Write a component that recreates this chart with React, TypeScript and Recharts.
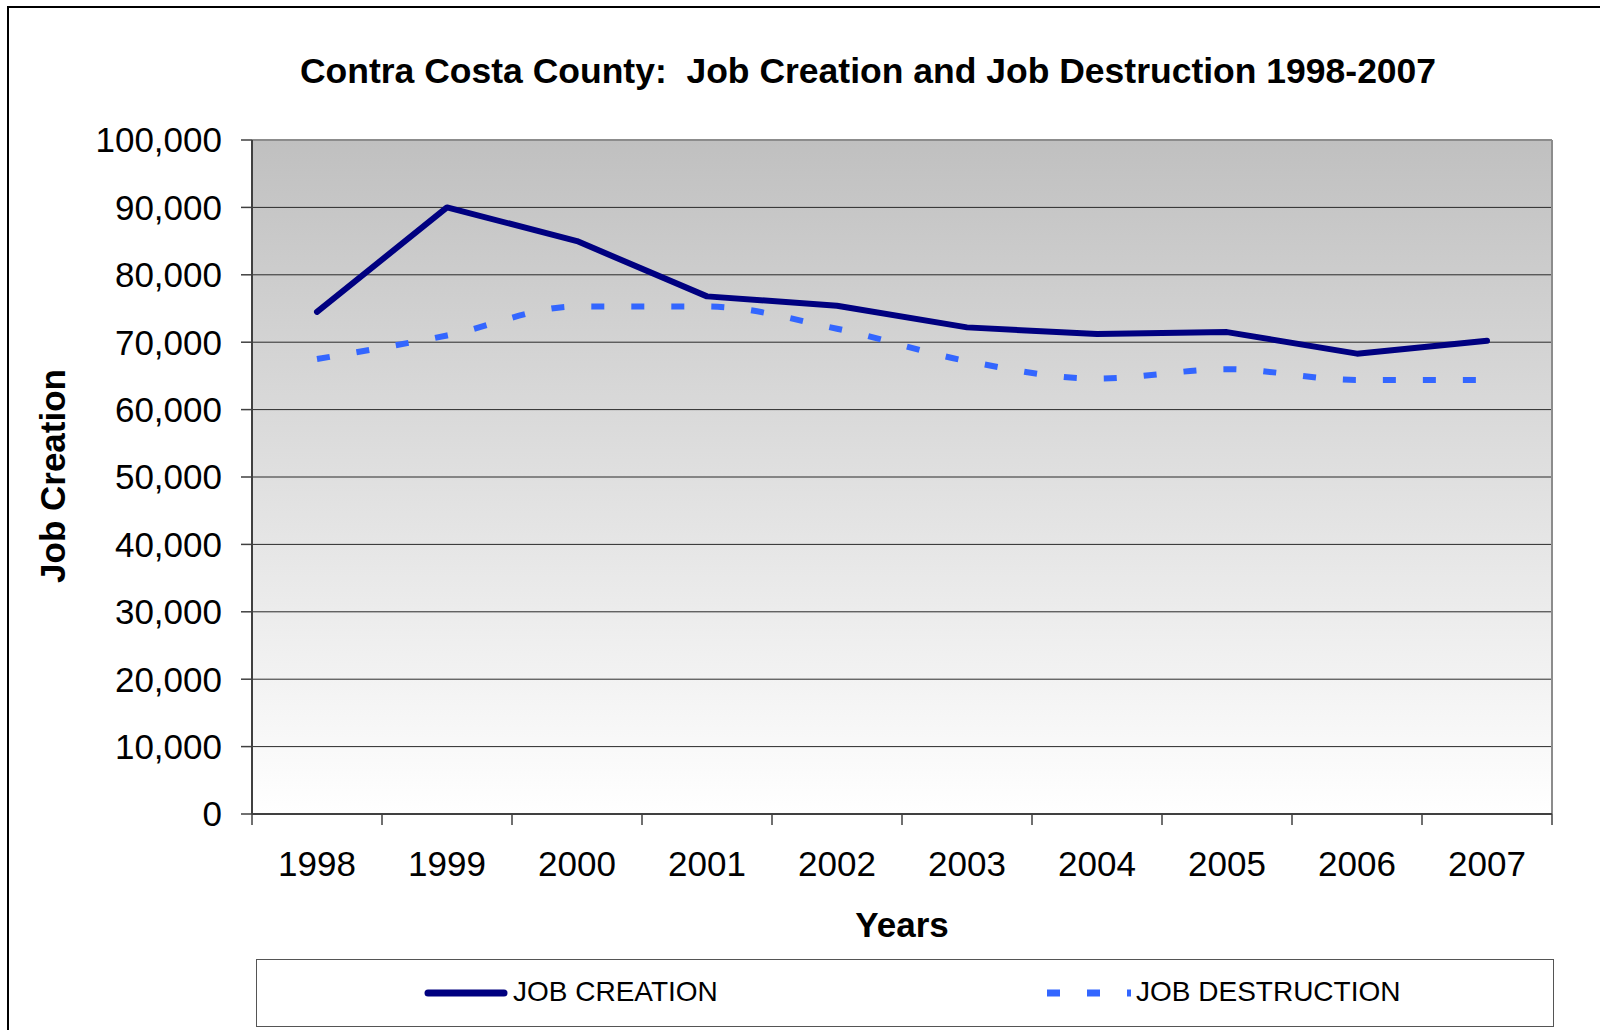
import { CartesianGrid, Line, LineChart, ReferenceLine, XAxis, YAxis } from 'recharts'

const years = ['1998', '1999', '2000', '2001', '2002', '2003', '2004', '2005', '2006', '2007']
const jobCreation = [74500, 90000, 85000, 76800, 75400, 72200, 71200, 71500, 68300, 70200]
const jobDestruction = [67500, 71000, 75300, 75300, 72000, 67200, 64600, 66000, 64400, 64400]
const yTicks = [0, 10000, 20000, 30000, 40000, 50000, 60000, 70000, 80000, 90000, 100000]

const data = years.map((year, i) => ({
  year,
  pos: i + 0.5,
  creation: jobCreation[i],
  destruction: jobDestruction[i],
}))
// tick marks sit between the years, labels sit in the middle of each band
const boundaryTicks = [...years.map((_, i) => i), years.length]

const FONT = '"Liberation Sans", Arial, sans-serif'
const DASH = '13 27'
const MARGIN = { top: 140, right: 48, left: 0, bottom: 156 }
const Y_AXIS_W = 252
const HALF_BAND = (1600 - Y_AXIS_W - MARGIN.right) / years.length / 2

const fmt = (v: number) => v.toLocaleString('en-US')

function YearTick(props: any) {
  const { x, y, payload } = props
  const idx = payload.value
  if (idx >= years.length) return null
  return (
    <text
      x={x + HALF_BAND}
      y={y}
      dy="0.71em"
      textAnchor="middle"
      fill="#000"
      fontSize={35}
      fontFamily={FONT}
    >
      {years[idx]}
    </text>
  )
}

export default function App() {
  return (
    <div
      style={{
        position: 'absolute',
        left: 0,
        top: 0,
        width: 1600,
        height: 1030,
        background: '#fff',
        fontFamily: FONT,
        overflow: 'hidden',
      }}
    >
      <div
        style={{
          position: 'absolute',
          left: 7,
          top: 6,
          width: 1700,
          height: 1100,
          border: '2px solid #000',
        }}
      />
      <div
        style={{
          position: 'absolute',
          left: 0,
          width: 1736,
          top: 51,
          lineHeight: '40px',
          textAlign: 'center',
          fontSize: 35.5,
          fontWeight: 'bold',
          whiteSpace: 'pre',
        }}
      >
        {'Contra Costa County:  Job Creation and Job Destruction 1998-2007'}
      </div>

      <div style={{ position: 'absolute', left: 0, top: 0 }}>
        <LineChart width={1600} height={1030} data={data} margin={MARGIN}>
          <defs>
            <linearGradient id="plotBg" x1="0" y1="0" x2="0" y2="1">
              <stop offset="0%" stopColor="#c0c0c0" />
              <stop offset="100%" stopColor="#ffffff" />
            </linearGradient>
          </defs>
          <CartesianGrid
            vertical={false}
            stroke="#2a2a2a"
            strokeWidth={1}
            fill="url(#plotBg)"
            fillOpacity={1}
          />
          <XAxis
            dataKey="pos"
            type="number"
            domain={[0, years.length]}
            ticks={boundaryTicks}
            interval={0}
            tick={<YearTick />}
            tickSize={11}
            tickMargin={26}
            height={60}
            axisLine={{ stroke: '#404040', strokeWidth: 2 }}
            tickLine={{ stroke: '#404040', strokeWidth: 1.5 }}
          />
          <YAxis
            domain={[0, 100000]}
            ticks={yTicks}
            interval={0}
            tickFormatter={fmt}
            width={Y_AXIS_W}
            tickSize={11}
            tickMargin={19}
            axisLine={{ stroke: '#404040', strokeWidth: 2 }}
            tickLine={{ stroke: '#404040', strokeWidth: 1.5 }}
            tick={{ fill: '#000', fontSize: 35, fontFamily: FONT }}
          />
          <ReferenceLine y={100000} stroke="#8c8c8c" strokeWidth={2} />
          <ReferenceLine x={years.length} stroke="#8c8c8c" strokeWidth={2} />
          <Line
            type="monotone"
            dataKey="destruction"
            stroke="#3366ff"
            strokeWidth={6}
            strokeDasharray={DASH}
            dot={false}
            activeDot={false}
            isAnimationActive={false}
          />
          <Line
            type="linear"
            dataKey="creation"
            stroke="#000080"
            strokeWidth={6}
            strokeLinecap="round"
            strokeLinejoin="round"
            dot={false}
            activeDot={false}
            isAnimationActive={false}
          />
        </LineChart>
      </div>

      <div
        style={{
          position: 'absolute',
          left: 53,
          top: 476,
          transform: 'translate(-50%, -50%) rotate(-90deg)',
          fontSize: 35,
          fontWeight: 'bold',
          whiteSpace: 'nowrap',
          lineHeight: '40px',
        }}
      >
        Job Creation
      </div>
      <div
        style={{
          position: 'absolute',
          left: 902,
          top: 925,
          transform: 'translate(-50%, -50%)',
          fontSize: 35,
          fontWeight: 'bold',
          lineHeight: '40px',
        }}
      >
        Years
      </div>

      <div
        style={{
          position: 'absolute',
          left: 256,
          top: 959,
          width: 1296,
          height: 66,
          border: '1.5px solid #555',
        }}
      >
        <svg style={{ position: 'absolute', left: 167, top: 28 }} width={84} height={10}>
          <line x1={4} y1={5} x2={80} y2={5} stroke="#000080" strokeWidth={7} strokeLinecap="round" />
        </svg>
        <div style={{ position: 'absolute', left: 256, top: 16, fontSize: 28, lineHeight: '32px' }}>
          JOB CREATION
        </div>
        <svg style={{ position: 'absolute', left: 790, top: 28 }} width={84} height={10}>
          <line x1={0} y1={5} x2={84} y2={5} stroke="#3366ff" strokeWidth={7} strokeDasharray={DASH} />
        </svg>
        <div style={{ position: 'absolute', left: 879, top: 16, fontSize: 28, lineHeight: '32px' }}>
          JOB DESTRUCTION
        </div>
      </div>
    </div>
  )
}
